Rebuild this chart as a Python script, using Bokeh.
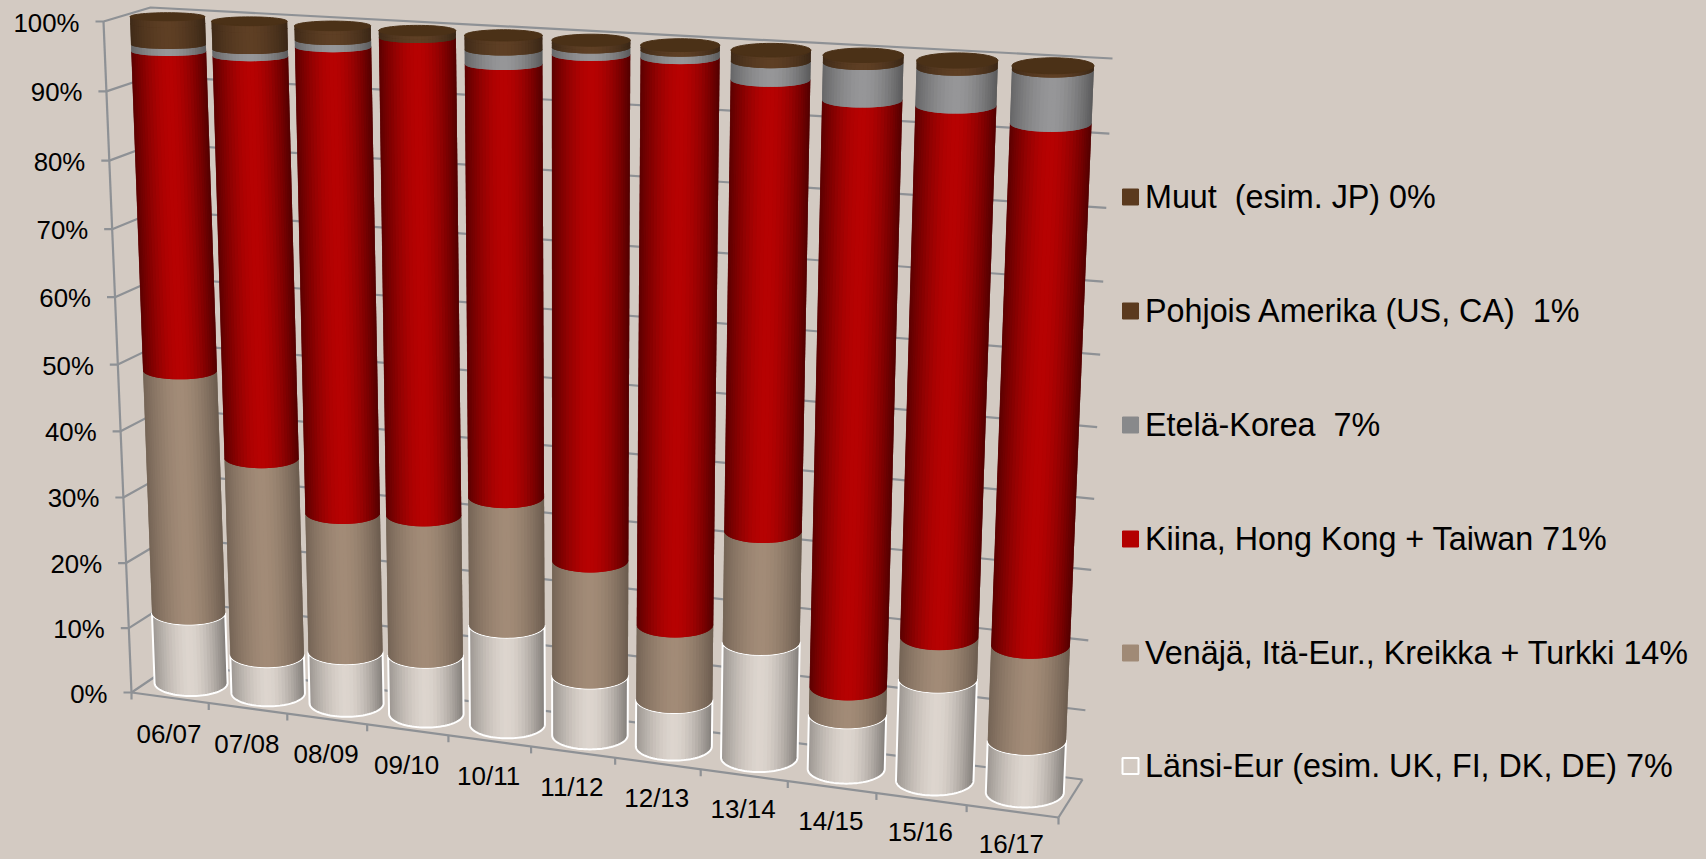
from bokeh.plotting import figure
from bokeh.models import Range1d
from bokeh.core.properties import value
from bokeh.embed import file_html
from bokeh.resources import INLINE
import math

categories = ["06/07","07/08","08/09","09/10","10/11","11/12","12/13","13/14","14/15","15/16","16/17"]
lansi   = [11,6,8,9,15,9,7,17,8,14.7,7.5]
venaja  = [37,30,21,21,19,17,11,16,4,6,13.5]
kiina   = [47,59,68,69,62,72,80.3,63,82,73.3,71.4]
korea   = [1,1,1,0,2,1,1,2.5,5,5,7.1]
pohjois = [3,3,1.5,0.5,1.5,0.5,0.4,1.2,0.7,0.7,0.5]
muut    = [1,1,0.5,0.5,0.5,0.5,0.3,0.3,0.3,0.3,0]
y_ticks = [0,10,20,30,40,50,60,70,80,90,100]
series_names = ["Länsi-Eur (esim. UK, FI, DK, DE) 7%","Venäjä, Itä-Eur., Kreikka + Turkki 14%",
                "Kiina, Hong Kong + Taiwan 71%","Etelä-Korea \u00a07%","Pohjois Amerika (US, CA) \u00a01%","Muut \u00a0(esim. JP) 0%"]
series_values = [lansi,venaja,kiina,korea,pohjois,muut]
series_colors = [(221,213,206),(162,139,119),(183,2,2),(150,150,152),(94,63,36),(94,63,36)]
swatch_colors = ["#D3CAC2","#A08A76","#B30000","#88898B","#5B3A1E","#5B3A1E"]

BG = "#D3CAC2"
GRID = "#8E9195"

# projected corners of the 3-D box (front/back, left/right, bottom/top)
FLB,BLB,FRB,BRB = (131,692),(174,663),(1058,817),(1082,779)
FLT,BLT,FRT,BRT = (103,21),(150,7),(1090,78),(1112,58)
KX, KY = 1.10, 1.046

def lerp(a,b,t): return a+(b-a)*t
def persp(t,k): return t/(t+k*(1-t))
def project(u,d,v):
    """u along categories 0..1, d depth 0..1, v share 0..1 -> screen position"""
    fu,fv = persp(u,KX),persp(v,KY)
    out=[]
    for c in (0,1):
        fb = lerp(lerp(FLB[c],FRB[c],fu),lerp(BLB[c],BRB[c],fu),d)
        ft = lerp(lerp(FLT[c],FRT[c],fu),lerp(BLT[c],BRT[c],fu),d)
        out.append(lerp(fb,ft,fv))
    return out

p = figure(width=1706,height=859,output_backend="svg",toolbar_location=None,
           x_range=Range1d(0,1706),y_range=Range1d(859,0),min_border=0,
           background_fill_color=BG,border_fill_color=BG,outline_line_color=None)
p.axis.visible=False
p.grid.visible=False

# ---- walls and floor
xs,ys=[],[]
def seg(a,b):
    xs.append([a[0],b[0]]); ys.append([a[1],b[1]])
tx,ty,tl=[],[],[]
for t in y_ticks:
    v=t/100
    f=project(0,0,v); b=project(0,1,v); r=project(1,1,v)
    xs.append([f[0]-8,f[0],b[0],r[0]]); ys.append([f[1],f[1],b[1],r[1]])
    tx.append(f[0]-24); ty.append(f[1]+1); tl.append(f"{t}%")
seg(project(0,0,0),project(0,0,1))
seg(project(0,0,0),project(1,0,0))
seg(project(1,0,0),project(1,1,0))
n=len(categories)
for i in range(n+1):
    a=project(i/n,0,0)
    seg(a,(a[0],a[1]+7))
p.multi_line(xs,ys,line_color=GRID,line_width=2.2)
p.text(tx,ty,text=tl,text_align="right",text_baseline="middle",text_font=value("Liberation Sans"),
       text_font_size="25.8px",text_color="#000000")

# ---- category labels
lx,ly=[],[]
for i in range(n):
    a=project((i+.5)/n,0,0)
    lx.append(a[0]-1); ly.append(a[1]+lerp(36,33,i/(n-1)))
p.text(lx,ly,text=categories,text_align="center",text_baseline="middle",text_font=value("Liberation Sans"),
       text_font_size="26px",text_color="#000000")

# ---- cylinders
N=32
def cyl(i,v):
    c=project((i+.5)/n,.5,v)
    w=i/(n-1)
    rx=lerp(36.5+2.5*w,37.5+3.5*w,v)
    ry=lerp(13+2*w,4+4*w,v)
    return c[0],c[1],rx,ry
def shade(col,t,edgeL,edgeR):
    e=edgeL if t<0 else edgeR
    s=1-(1-e)*abs(t)**1.7
    return "#%02x%02x%02x"%tuple(int(round(x*s)) for x in col)

edges={0:(.7,.58),1:(.72,.66),2:(.5,.45),3:(.68,.6),4:(.68,.62),5:(.68,.62)}
for s,vals in enumerate(series_values):
    sx,sy,sc=[],[],[]
    ox,oy=[],[]
    for i in range(n):
        if vals[i]<=0: continue
        base=sum(series_values[k][i] for k in range(s))/100
        top=base+vals[i]/100
        a=cyl(i,base); b=cyl(i,top)
        for j in range(N):
            # each strip runs under the next one, so that no seam shows
            th0=math.pi*(1-j/N); th1=math.pi*(1-min(j+2,N)/N)
            up=[(b[0]+b[2]*math.cos(th),b[1]+b[3]*math.sin(th)-0.6) for th in (th0,th1)]
            dn=[(a[0]+a[2]*math.cos(th),a[1]+a[3]*math.sin(th)) for th in (th1,th0)]
            sx.append([q[0] for q in up+dn])
            sy.append([q[1] for q in up+dn])
            tm=math.cos(math.pi*(1-(j+.5)/N))
            sc.append(shade(series_colors[s],tm,*edges[s]))
        if s==0:
            arc=[math.pi*k/48 for k in range(49)]
            ox.append([b[0]+b[2]*math.cos(t) for t in arc[::-1]]+[a[0]+a[2]*math.cos(t) for t in arc]+[b[0]-b[2]])
            oy.append([b[1]+b[3]*math.sin(t) for t in arc[::-1]]+[a[1]+a[3]*math.sin(t) for t in arc]+[b[1]])
    if sx:
        p.patches(sx,sy,fill_color=sc,line_color=None)
    if ox:
        p.multi_line(ox,oy,line_color="#FFFFFF",line_width=2)

# top caps
cx,cy=[],[]
for i in range(n):
    c=cyl(i,1.0)
    cx.append([c[0]+c[2]*math.cos(2*math.pi*k/60) for k in range(60)])
    cy.append([c[1]+c[3]*math.sin(2*math.pi*k/60) for k in range(60)])
p.patches(cx,cy,fill_color="#4B3117",line_color="#4B3117",line_width=1)

# ---- legend
leg_y=[765.5,652.5,538.5,424.5,310.5,196.5]
p.rect([1130]*6,leg_y,width=16,height=16,fill_color=swatch_colors,
       line_color=["#FFFFFF"]+swatch_colors[1:],line_width=[2,1,1,1,1,1])
p.text([1144.5]*6,[y-0.5 for y in leg_y],text=series_names,text_align="left",text_baseline="middle",
       text_font=value("Liberation Sans"),text_font_size="32.3px",text_color="#000000")

html=file_html(p,INLINE)
html=html.replace("</head>","<style>html,body{margin:0;padding:0;background:%s;overflow:hidden}</style></head>"%BG,1)
open("out.html","w").write(html)
